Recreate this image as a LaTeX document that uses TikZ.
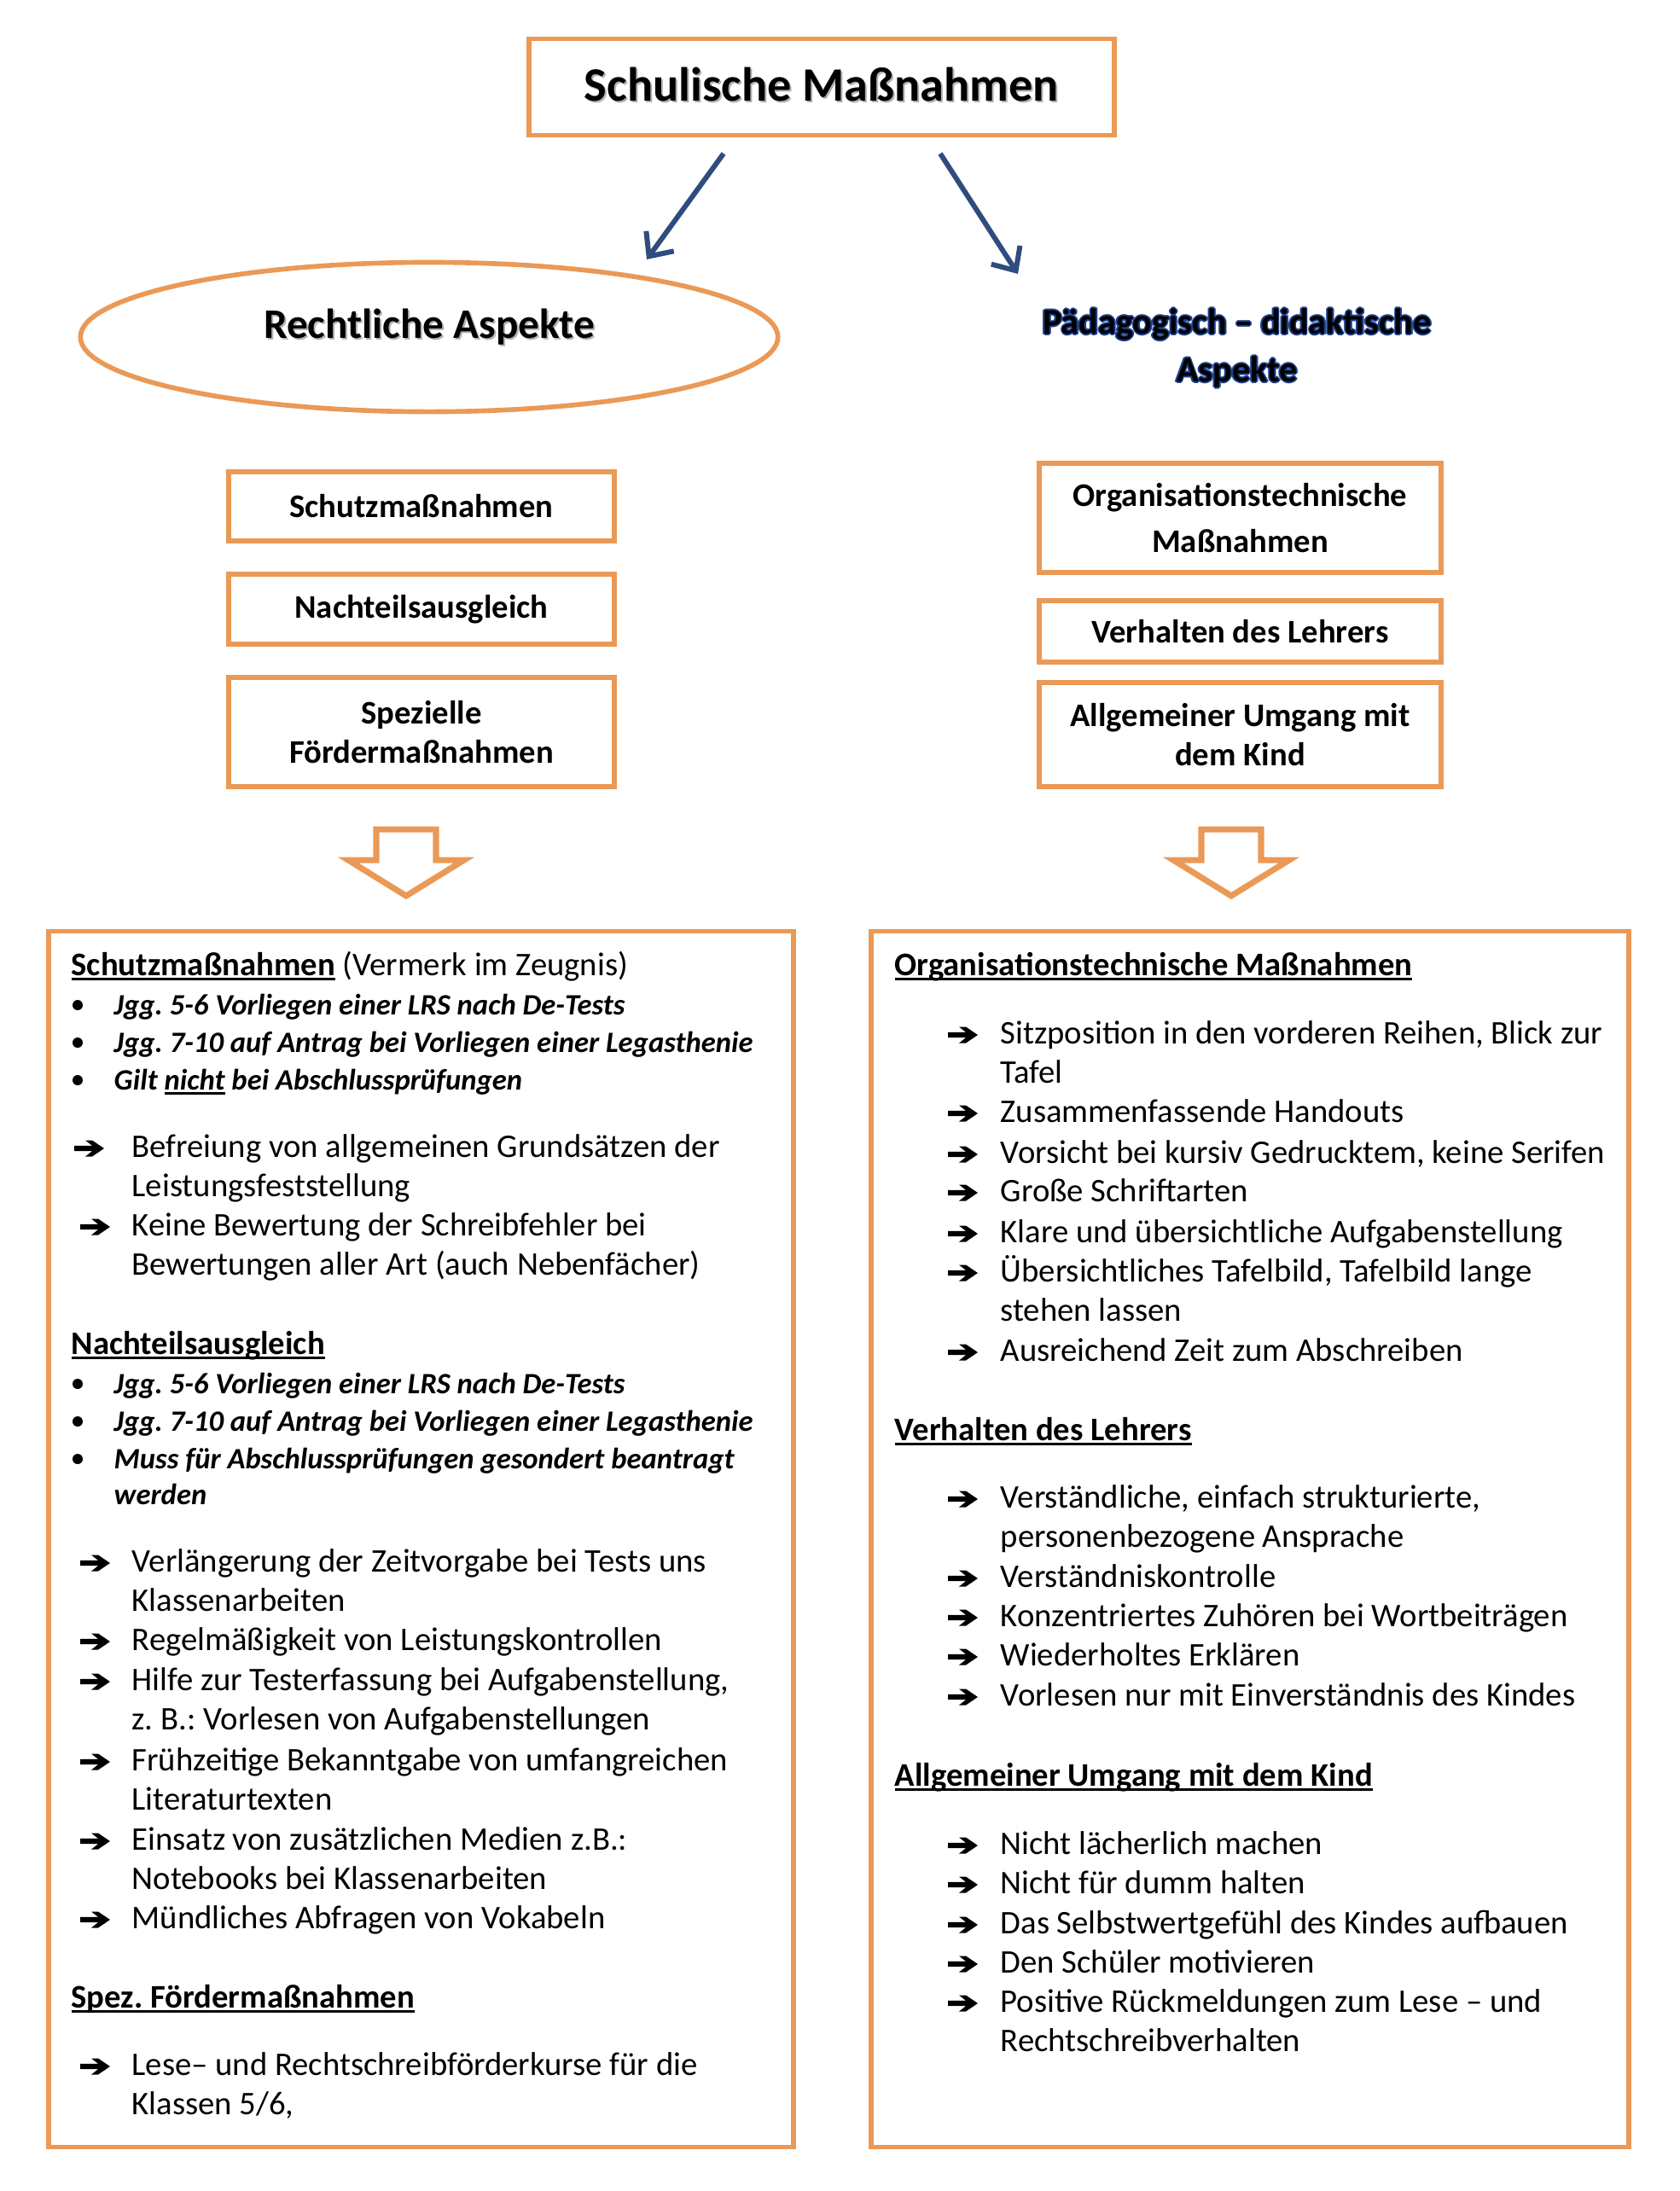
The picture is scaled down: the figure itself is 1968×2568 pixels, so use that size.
\documentclass[tikz,border=0pt]{standalone}
\usepackage{fontspec}
\setmainfont{Carlito}
\usetikzlibrary{arrows.meta,shapes.geometric}
\definecolor{boxorange}{RGB}{234,153,86}
\definecolor{linkblue}{RGB}{47,76,126}
\definecolor{glowblue}{RGB}{28,64,140}
\newcommand{\bodyfont}{\fontsize{11pt}{13.25pt}\selectfont}
\newcommand{\lines}[1]{\begin{tabular}[t]{@{}l@{}}#1\end{tabular}}
\newcommand{\ulinetext}[1]{\setbox0\hbox{#1}\rlap{\rule[-1.6pt]{\wd0}{0.75pt}}\box0\relax}
\frenchspacing

\tikzset{
  orangebox/.style={draw=boxorange, line width=1.6pt, inner sep=0pt},
  smallbox/.style={orangebox, align=center, font=\bodyfont\bfseries},
  heading/.style={anchor=base west, inner sep=0pt, font=\bodyfont},
  itemtext/.style={anchor=base west, inner sep=0pt, font=\bodyfont},
  bullettext/.style={itemtext, font=\fontsize{9.85pt}{12.2pt}\selectfont\bfseries\itshape},
  bulletdot/.style={circle, fill=black, inner sep=0pt, minimum size=0.12cm},
  itemarrow/.pic={
    \fill (0,-3.2) -- (21,-3.2) -- (13,-9.5) -- (21,-9.5) -- (35,0) -- (21,9.5) -- (13,9.5)
      -- (21,3.2) -- (0,3.2) -- cycle;
  },
  linkarrow/.style={draw=linkblue, line width=1.7pt, -{Straight Barb[length=2.2mm,width=4mm]}},
  hollowarrow/.style={draw=boxorange, line width=2pt, line join=miter},
}

\begin{document}
\begin{tikzpicture}[x=0.01cm, y=-0.01cm]
  \useasboundingbox (0,0) rectangle (1968,2568);

  % title
  \node[orangebox, minimum width=6.86cm, minimum height=1.13cm] (title) at (963,102) {};
  \node[text=black!30, font=\fontsize{16pt}{19pt}\selectfont\bfseries] (titleshade) at (965,101) {Schulische Maßnahmen};
  \node[font=\fontsize{16pt}{19pt}\selectfont\bfseries] (titletext) at (963,99) {Schulische Maßnahmen};

  % two branches
  \node[orangebox, ellipse, minimum width=8.17cm, minimum height=1.75cm] (recht) at (503,395) {};
  \node[text=black!30, font=\fontsize{14pt}{17pt}\selectfont\bfseries] (rechtshade) at (505,385) {Rechtliche Aspekte};
  \node[font=\fontsize{14pt}{17pt}\selectfont\bfseries] (rechttext) at (503,383) {Rechtliche Aspekte};

  \foreach \dx/\dy [count=\i] in {-1.8/0, 1.8/0, 0/-1.8, 0/1.8, -1.3/-1.3, 1.3/-1.3, -1.3/1.3, 1.3/1.3} {
    \node[text=glowblue, align=center, font=\fontsize{12pt}{16pt}\selectfont\bfseries] (glow\i) at ({1450+\dx},{408+\dy}) {Pädagogisch – didaktische\\Aspekte};
  }
  \node[align=center, font=\fontsize{12pt}{16pt}\selectfont\bfseries] (paed) at (1450,408) {Pädagogisch – didaktische\\Aspekte};

  \coordinate (lstart) at (848,180);
  \coordinate (lend) at (758,304);
  \coordinate (rstart) at (1102,180);
  \coordinate (rend) at (1193,321);
  \draw[linkarrow] (lstart) -- (lend);
  \draw[linkarrow] (rstart) -- (rend);

  % small boxes
  \node[smallbox, minimum width=4.52cm, minimum height=0.81cm] (schutz) at (494,593.5) {Schutzmaßnahmen};
  \node[smallbox, minimum width=4.52cm, minimum height=0.82cm] (nachteil) at (494,714) {Nachteilsausgleich};
  \node[smallbox, minimum width=4.52cm, minimum height=1.28cm] (foerder) at (494,858) {Spezielle\\Fördermaßnahmen};
  \node[smallbox, minimum width=4.71cm, minimum height=1.28cm, font=\fontsize{11pt}{15.3pt}\selectfont\bfseries] (orga) at (1453.5,607) {Organisationstechnische\\Maßnahmen};
  \node[smallbox, minimum width=4.71cm, minimum height=0.72cm] (lehrer) at (1453.5,740) {Verhalten des Lehrers};
  \node[smallbox, minimum width=4.71cm, minimum height=1.22cm] (umgang) at (1453.5,861) {Allgemeiner Umgang mit\\dem Kind};

  % hollow arrows
  \foreach \cx in {476,1443} {
    \draw[hollowarrow] ({\cx-35},972) -- ({\cx+35},972) -- ({\cx+35},1008) -- ({\cx+68},1008)
      -- (\cx,1050) -- ({\cx-68},1008) -- ({\cx-35},1008) -- cycle;
  }

  % panels
  \node[orangebox, minimum width=8.73cm, minimum height=14.24cm] (leftpanel) at (493.5,1804) {};
  \node[orangebox, minimum width=8.88cm, minimum height=14.24cm] (rightpanel) at (1465,1804) {};

  % left panel
  \node[heading] (lh1) at (83,1143) {\textbf{\ulinetext{Schutzmaßnahmen}} (Vermerk im Zeugnis)};
  \foreach \y/\t [count=\i] in {1189/{Jgg. 5-6 Vorliegen einer LRS nach De-Tests},
      1233/{Jgg. 7-10 auf Antrag bei Vorliegen einer Legasthenie},
      1277/{Gilt \ulinetext{nicht} bei Abschlussprüfungen}} {
    \node[bulletdot] (lb\i) at (91,{\y-11}) {};
    \node[bullettext] (lbt\i) at (133,\y) {\t};
  }
  \foreach \ax/\y/\t [count=\i] in {87/1356/{Befreiung von allgemeinen Grundsätzen der\\Leistungsfeststellung},
      94/1448/{Keine Bewertung der Schreibfehler bei\\Bewertungen aller Art (auch Nebenfächer)}} {
    \pic (la\i) at (\ax,{\y-10}) {itemarrow};
    \node[itemtext] (lat\i) at (154,\y) {\lines{\t}};
  }

  \node[heading] (lh2) at (83,1587) {\textbf{\ulinetext{Nachteilsausgleich}}};
  \foreach \y/\t [count=\i] in {1633/{Jgg. 5-6 Vorliegen einer LRS nach De-Tests},
      1677/{Jgg. 7-10 auf Antrag bei Vorliegen einer Legasthenie},
      1721/{Muss für Abschlussprüfungen gesondert beantragt\\werden}} {
    \node[bulletdot] (nb\i) at (91,{\y-11}) {};
    \node[bullettext] (nbt\i) at (133,\y) {\lines{\t}};
  }
  \foreach \y/\t [count=\i] in {1842/{Verlängerung der Zeitvorgabe bei Tests uns\\Klassenarbeiten},
      1934/{Regelmäßigkeit von Leistungskontrollen},
      1981/{Hilfe zur Testerfassung bei Aufgabenstellung,\\z. B.: Vorlesen von Aufgabenstellungen},
      2075/{Frühzeitige Bekanntgabe von umfangreichen\\Literaturtexten},
      2168/{Einsatz von zusätzlichen Medien z.B.:\\Notebooks bei Klassenarbeiten},
      2260/{Mündliches Abfragen von Vokabeln}} {
    \pic (na\i) at (94,{\y-10}) {itemarrow};
    \node[itemtext] (nat\i) at (154,\y) {\lines{\t}};
  }

  \node[heading] (lh3) at (83,2353) {\textbf{\ulinetext{Spez. Fördermaßnahmen}}};
  \pic (fa1) at (94,2422) {itemarrow};
  \node[itemtext] (fat1) at (154,2432) {\lines{Lese– und Rechtschreibförderkurse für die\\Klassen 5/6,}};

  % right panel
  \node[heading] (rh1) at (1048,1143) {\textbf{\ulinetext{Organisationstechnische Maßnahmen}}};
  \foreach \y/\t [count=\i] in {1223/{Sitzposition in den vorderen Reihen, Blick zur\\Tafel},
      1315/{Zusammenfassende Handouts},
      1363/{Vorsicht bei kursiv Gedrucktem, keine Serifen},
      1408/{Große Schriftarten},
      1456/{Klare und übersichtliche Aufgabenstellung},
      1502/{Übersichtliches Tafelbild, Tafelbild lange\\stehen lassen},
      1595/{Ausreichend Zeit zum Abschreiben}} {
    \pic (oa\i) at (1111,{\y-10}) {itemarrow};
    \node[itemtext] (oat\i) at (1172,\y) {\lines{\t}};
  }

  \node[heading] (rh2) at (1048,1688) {\textbf{\ulinetext{Verhalten des Lehrers}}};
  \foreach \y/\t [count=\i] in {1767/{Verständliche, einfach strukturierte,\\personenbezogene Ansprache},
      1860/{Verständniskontrolle},
      1906/{Konzentriertes Zuhören bei Wortbeiträgen},
      1952/{Wiederholtes Erklären},
      1999/{Vorlesen nur mit Einverständnis des Kindes}} {
    \pic (va\i) at (1111,{\y-10}) {itemarrow};
    \node[itemtext] (vat\i) at (1172,\y) {\lines{\t}};
  }

  \node[heading] (rh3) at (1048,2093) {\textbf{\ulinetext{Allgemeiner Umgang mit dem Kind}}};
  \foreach \y/\t [count=\i] in {2173/{Nicht lächerlich machen},
      2219/{Nicht für dumm halten},
      2266/{Das Selbstwertgefühl des Kindes aufbauen},
      2312/{Den Schüler motivieren},
      2358/{Positive Rückmeldungen zum Lese – und\\Rechtschreibverhalten}} {
    \pic (ua\i) at (1111,{\y-10}) {itemarrow};
    \node[itemtext] (uat\i) at (1172,\y) {\lines{\t}};
  }
\end{tikzpicture}
\end{document}
